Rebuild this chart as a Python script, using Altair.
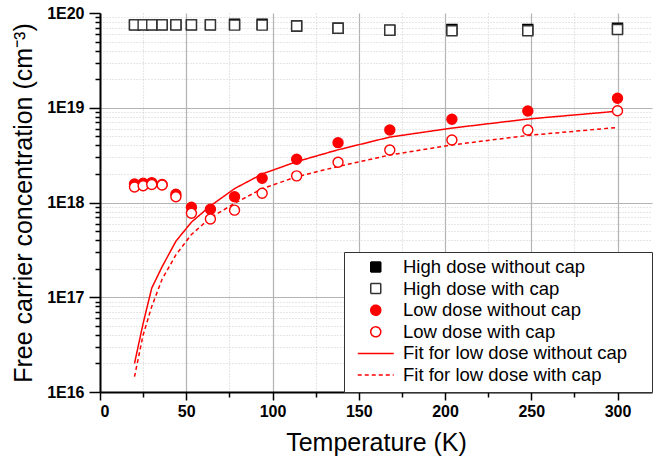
import altair as alt
import pandas as pd

# ---------------- data ----------------
T_DATA = [20, 25, 30, 36, 44, 53, 64, 78, 94, 114, 138, 168, 204, 248, 300]

HIGH_NO_CAP = [7.5e19, 7.5e19, 7.5e19, 7.5e19, 7.5e19, 7.5e19, 7.5e19, 7.6e19,
               7.6e19, 7.3e19, 6.9e19, 6.6e19, 6.7e19, 6.7e19, 6.9e19]
HIGH_WITH_CAP = [7.5e19, 7.5e19, 7.5e19, 7.5e19, 7.5e19, 7.5e19, 7.5e19, 7.45e19,
                 7.45e19, 7.3e19, 6.9e19, 6.6e19, 6.5e19, 6.5e19, 6.7e19]
LOW_NO_CAP = [1.57e18, 1.6e18, 1.62e18, 1.55e18, 1.22e18, 8.9e17, 8.5e17, 1.15e18,
              1.8e18, 2.86e18, 4.28e18, 5.82e18, 7.55e18, 9.24e18, 1.26e19]
LOW_WITH_CAP = [1.46e18, 1.5e18, 1.55e18, 1.53e18, 1.15e18, 7.7e17, 6.7e17, 8.3e17,
                1.25e18, 1.91e18, 2.66e18, 3.58e18, 4.57e18, 5.82e18, 9.3e18]
FIT_NO_CAP = [2.0e16, 5.3e16, 1.25e17, 2.1e17, 3.9e17, 6.2e17, 9.2e17, 1.4e18,
              2.0e18, 2.7e18, 3.6e18, 4.9e18, 6.1e18, 7.6e18, 9.2e18]
FIT_WITH_CAP = [1.45e16, 4.0e16, 8.0e16, 1.55e17, 2.8e17, 4.6e17, 6.9e17, 9.8e17,
                1.4e18, 1.87e18, 2.4e18, 3.17e18, 4.05e18, 5.1e18, 6.2e18]

SERIES = ["High dose without cap", "High dose with cap", "Low dose without cap",
          "Low dose with cap", "Fit for low dose without cap", "Fit for low dose with cap"]

X_TICKS = [0, 25, 50, 75, 100, 125, 150, 175, 200, 225, 250, 275, 300]
Y_TICKS = [m * 10.0 ** e for e in range(16, 20) for m in range(1, 10)] + [1e20]

# ---------------- tables ----------------
pts_rows = []
for name, vals in zip(SERIES[:4], [HIGH_NO_CAP, HIGH_WITH_CAP, LOW_NO_CAP, LOW_WITH_CAP]):
    for t, v in zip(T_DATA, vals):
        pts_rows.append({"T": t, "n": v, "series": name})
pts = pd.DataFrame(pts_rows)

fit_rows = []
for name, vals in zip(SERIES[4:], [FIT_NO_CAP, FIT_WITH_CAP]):
    for t, v in zip(T_DATA, vals):
        fit_rows.append({"T": t, "n": v, "series": name})
fits = pd.DataFrame(fit_rows)

FONT = "Liberation Sans"
RED = "#ff0000"
LINE_SYMBOL = "M-3.6,0H3.6"

x_minor = "datum.value % 50 !== 0"
y_minor = "abs(log(datum.value)/LN10 - round(log(datum.value)/LN10)) > 0.001"

x_axis = alt.Axis(
    values=X_TICKS,
    title="Temperature (K)",
    labelExpr=f"({x_minor}) ? '' : datum.label",
    tickSize={"condition": {"test": x_minor, "value": 5}, "value": 8},
    gridDash={"condition": {"test": x_minor, "value": [1, 2]}, "value": [1, 0]},
    gridColor={"condition": {"test": x_minor, "value": "#cfcfcf"}, "value": "#b3b3b3"},
    gridWidth=1.2,
    titleX=276, titleY=50, titleBaseline="middle",
    labelPadding=3,
)
y_axis = alt.Axis(
    values=Y_TICKS,
    title="Free carrier concentration (cm⁻³)",
    labelExpr=f"({y_minor}) ? '' : '1E' + round(log(datum.value)/LN10)",
    tickSize={"condition": {"test": y_minor, "value": 5}, "value": 11},
    gridDash={"condition": {"test": y_minor, "value": [1, 2]}, "value": [1, 0]},
    gridColor={"condition": {"test": y_minor, "value": "#cfcfcf"}, "value": "#b3b3b3"},
    gridOpacity={"condition": {"test": "datum.value >= 9.9e19", "value": 0}, "value": 1},
    gridWidth=1.2,
    titleX=-77, titleY=189.5, titleAngle=270, titleBaseline="middle", titleAlign="center",
    labelPadding=5,
)

x_enc = alt.X("T:Q", scale=alt.Scale(domain=[0, 320], nice=False, zero=False), axis=x_axis)
y_enc = alt.Y("n:Q", scale=alt.Scale(type="log", domain=[1e16, 1e20], nice=False), axis=y_axis)

# invisible title on the right only widens the box like the reference
legend = alt.Legend(title="M", titleOrient="right", titleOpacity=0,
                    titleFontSize=16, titlePadding=4)

stroke_enc = alt.Stroke("series:N", legend=legend,
                        scale=alt.Scale(domain=SERIES, range=["#000000", "#333333", RED, RED, RED, RED]))

lines = alt.Chart(fits).mark_line(strokeWidth=1.5).encode(
    x=x_enc, y=y_enc,
    stroke=stroke_enc,
    strokeDash=alt.StrokeDash("series:N", legend=legend,
                              scale=alt.Scale(domain=SERIES,
                                              range=[[1, 0], [1, 0], [1, 0], [1, 0], [1, 0], [4, 3]])),
    detail="series:N",
)

points = alt.Chart(pts).mark_point(strokeWidth=1.4, opacity=1).encode(
    x=x_enc, y=y_enc,
    stroke=stroke_enc,
    fill=alt.Fill("series:N", legend=legend,
                  scale=alt.Scale(domain=SERIES,
                                  range=["#000000", "#ffffff", RED, "#ffffff", "transparent", "transparent"])),
    shape=alt.Shape("series:N", legend=legend,
                    scale=alt.Scale(domain=SERIES,
                                    range=["square", "square", "circle", "circle", LINE_SYMBOL, LINE_SYMBOL])),
    size=alt.Size("series:N", legend=legend,
                  scale=alt.Scale(domain=SERIES, range=[100, 100, 144, 144, 144, 144])),
)

chart = alt.layer(lines, points).properties(
    width=552, height=379,
    padding={"left": 100, "top": 13, "right": 9, "bottom": 70},
    autosize=alt.AutoSizeParams(type="none"),
).configure_view(stroke=None).configure_axis(
    domainColor="#000000", domainWidth=2,
    tickColor="#000000", tickWidth=1.5,
    labelFont=FONT, labelFontSize=16, labelFontWeight="bold", labelColor="#000000",
    titleFont=FONT, titleFontSize=25, titleFontWeight="normal", titleColor="#000000",
).configure_legend(
    orient="bottom-right", offset=0, padding=7,
    fillColor="#ffffff", strokeColor="#333333", strokeWidth=1,
    labelFont=FONT, labelFontSize=18.5, labelColor="#000000",
    clipHeight=16, rowPadding=2.6, symbolStrokeWidth=1.5,
    labelOffset=18, symbolOffset=15.5, labelLimit=400,
)

chart.save("out.html", embed_options={"renderer": "svg", "actions": False})
